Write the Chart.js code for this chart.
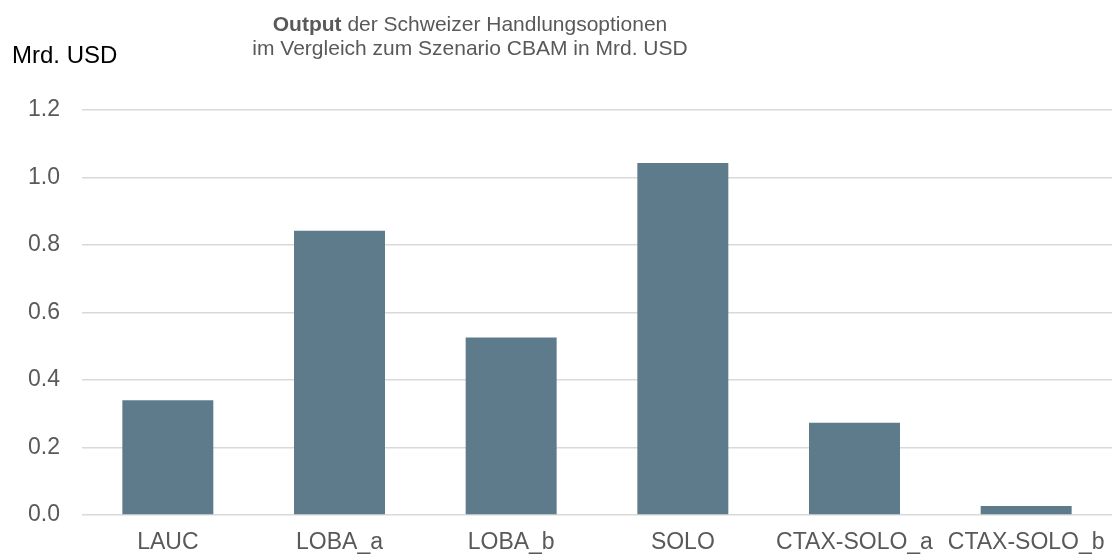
<!DOCTYPE html>
<html lang="de">
<head>
    <meta charset="UTF-8">
    <title>Output der Schweizer Handlungsoptionen</title>
    <script src="https://cdn.jsdelivr.net/npm/chart.js"></script>
    <style>
        body {
            margin: 0;
            background: #fff;
        }
        #wrap {
            width: 1112px;
            height: 554px;
            position: relative;
        }
    </style>
</head>
<body>
    <div id="wrap">
        <canvas id="chart"></canvas>
    </div>

    <script>
        // Daten
        const categories = ['LAUC', 'LOBA_a', 'LOBA_b', 'SOLO', 'CTAX-SOLO_a', 'CTAX-SOLO_b'];
        const outputValues = [0.340, 0.842, 0.526, 1.043, 0.273, 0.027];
        const yTicks = [0, 0.2, 0.4, 0.6, 0.8, 1.0, 1.2];

        const textGray = '#595959';
        const fontFamily = 'Arial, "Liberation Sans", sans-serif';

        // Title with mixed bold / regular, plus unit label
        const titlePlugin = {
            id: 'titlePlugin',
            afterDraw(chart) {
                const ctx = chart.ctx;
                ctx.save();
                ctx.textBaseline = 'middle';

                // unit label
                ctx.fillStyle = '#000';
                ctx.font = '24px ' + fontFamily;
                ctx.textAlign = 'left';
                ctx.fillText('Mrd. USD', 12, 56);

                // title line 1
                const cx = 470;
                const bold = 'Output';
                const rest = ' der Schweizer Handlungsoptionen';
                ctx.fillStyle = textGray;
                ctx.font = 'bold 21px ' + fontFamily;
                const wb = ctx.measureText(bold).width;
                ctx.font = '21px ' + fontFamily;
                const wr = ctx.measureText(rest).width;
                let x = cx - (wb + wr) / 2;
                ctx.font = 'bold 21px ' + fontFamily;
                ctx.fillText(bold, x, 25);
                ctx.font = '21px ' + fontFamily;
                ctx.fillText(rest, x + wb, 25);

                // title line 2
                ctx.textAlign = 'center';
                ctx.fillText('im Vergleich zum Szenario CBAM in Mrd. USD', cx, 49);
                ctx.restore();
            }
        };

        new Chart(document.getElementById('chart'), {
            type: 'bar',
            data: {
                labels: categories,
                datasets: [{
                    data: outputValues,
                    backgroundColor: '#5E7B8C',
                    borderWidth: 0,
                    barPercentage: 0.53,
                    categoryPercentage: 1.0
                }]
            },
            options: {
                responsive: true,
                maintainAspectRatio: false,
                animation: false,
                layout: {
                    padding: { top: 110, right: 0, bottom: 0, left: 0 }
                },
                plugins: {
                    legend: { display: false },
                    tooltip: { enabled: false }
                },
                scales: {
                    x: {
                        grid: { display: false },
                        border: { display: false },
                        ticks: {
                            color: textGray,
                            font: { size: 23, family: fontFamily },
                            maxRotation: 0,
                            autoSkip: false,
                            padding: 6
                        },
                        afterFit(axis) { axis.height = 39; }
                    },
                    y: {
                        min: 0,
                        max: 1.2,
                        afterBuildTicks(axis) {
                            axis.ticks = yTicks.map(v => ({ value: v }));
                        },
                        grid: {
                            color: '#d9d9d9',
                            lineWidth: 1.5,
                            drawTicks: false
                        },
                        border: { display: false },
                        ticks: {
                            color: textGray,
                            font: { size: 23, family: fontFamily },
                            padding: 22,
                            callback: v => v.toFixed(1)
                        },
                        afterFit(axis) { axis.width = 82; }
                    }
                }
            },
            plugins: [titlePlugin]
        });
    </script>
</body>
</html>
